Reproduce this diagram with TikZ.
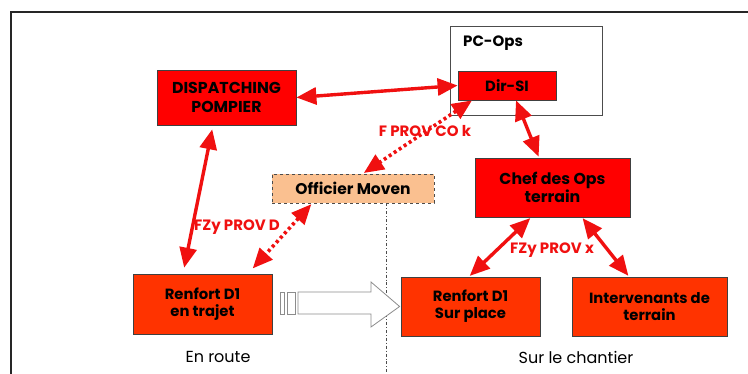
\documentclass[tikz,border=0pt]{standalone}
\usepackage{fontspec}
\setmainfont{Poppins}
\usetikzlibrary{arrows.meta,calc}
\definecolor{boxred}{HTML}{FF0000}
\definecolor{boxorange}{HTML}{FF3300}
\definecolor{peach}{HTML}{FAC090}
\definecolor{linkred}{HTML}{F01010}
\tikzset{
  px/.style={x=1pt,y=-1pt},
  redbox/.style={draw=black!75,line width=0.8pt,fill=boxred,inner sep=0pt,
    align=center,font=\fontsize{14.8}{17}\selectfont\bfseries},
  orangebox/.style={redbox,fill=boxorange},
  dashbox/.style={draw=black!70,dashed,line width=0.9pt,fill=peach,inner sep=0pt,
    align=center,font=\fontsize{15.5}{17}\selectfont\bfseries},
  link/.style={draw=linkred,line width=3.4pt,
    {Triangle[length=20pt,width=17pt]}-{Triangle[length=20pt,width=17pt]}},
  dotlink/.style={link,line width=3.6pt,line cap=butt,dash pattern=on 3pt off 3pt},
  linklabel/.style={text=linkred,font=\fontsize{15}{17}\selectfont\bfseries,inner sep=0pt},
  zonelabel/.style={font=\fontsize{16}{18}\selectfont,inner sep=0pt}
}
\begin{document}
\begin{tikzpicture}[px]
\useasboundingbox (0,0) rectangle (748,374);
% outer frame (cut by the page on the right and bottom)
\draw[line width=2pt,black!85] (11,380) -- (11,12) -- (760,12);

% PC-Ops container
\node[draw=black!70,line width=0.8pt,minimum width=152pt,minimum height=89pt,inner sep=0pt]
  (pcops) at (526,70.5) {};
\node[anchor=west,font=\fontsize{15}{17}\selectfont\bfseries,inner sep=0pt]
  (pclabel) at (463,43) {PC-Ops};

% boxes
\node[redbox,minimum width=139pt,minimum height=55pt,
  font=\fontsize{15.8}{18.5}\selectfont\bfseries] (disp) at (226.5,97.5)
  {DISPATCHING\\POMPIER};
\node[redbox,minimum width=98pt,minimum height=29pt] (dir) at (507,85.5) {Dir-SI};
\node[redbox,minimum width=155pt,minimum height=59pt,
  font=\fontsize{15.8}{18}\selectfont\bfseries] (chef) at (552.5,187.5)
  {Chef des Ops\\terrain};
\node[dashbox,minimum width=162pt,minimum height=29pt] (off) at (353,188.5)
  {Officier Moven};
\node[orangebox,minimum width=139pt,minimum height=60pt] (rt) at (202.5,304)
  {Renfort D1\\en trajet};
\node[orangebox,minimum width=139pt,minimum height=59pt] (sp) at (470.5,306.5)
  {Renfort D1\\Sur place};
\node[orangebox,minimum width=155pt,minimum height=59pt] (int) at (649.5,306.5)
  {Intervenants de\\terrain};

% zone separator
\draw[black!70,line width=0.9pt,dash dot] ([xshift=33pt]off.south) -- ++(0,175);

% transition arrow from route to site
\begin{scope}[draw=black!45,line width=0.8pt,fill=white]
  \filldraw (280,292) rectangle (284,314);
  \filldraw (287,292) rectangle (295,314);
  \filldraw (298,292) -- (371,292) -- (371,282) -- ([xshift=-1pt]sp.west)
    -- (371,327) -- (371,314) -- (298,314) -- cycle;
\end{scope}

% radio links
\draw[link] (disp.east) -- (dir.west);
\draw[link,shorten <=4pt,shorten >=6pt] ([xshift=-13.5pt]disp.south) -- ([xshift=-19.5pt]rt.north);
\draw[link,shorten >=1pt] ([xshift=9pt]dir.south) -- ([xshift=-13.5pt]chef.north);
\draw[link,shorten <=1pt,shorten >=1pt] ([xshift=-21.5pt]chef.south) -- ([xshift=-1.5pt]sp.north);
\draw[link,shorten <=1pt,shorten >=1pt] ([xshift=29.5pt]chef.south) -- ([xshift=-20.5pt]int.north);
\draw[dotlink,shorten >=1pt] ([xshift=-35pt]dir.south) -- ([xshift=10pt]off.north);
\draw[dotlink,shorten <=1pt,shorten >=7pt] ([xshift=-41pt]off.south) -- ([xshift=45.5pt]rt.north);

% link labels
\node[linklabel] (lk) at (425,131) {F PROV CO k};
\node[linklabel] (ld) at (237,227) {FZy PROV D};
\node[linklabel] (lx) at (552,250) {FZy PROV x};

% zone labels
\node[zonelabel] (enroute) at (218,357) {En route};
\node[zonelabel] (chantier) at (576,357) {Sur le chantier};
\end{tikzpicture}
\end{document}
